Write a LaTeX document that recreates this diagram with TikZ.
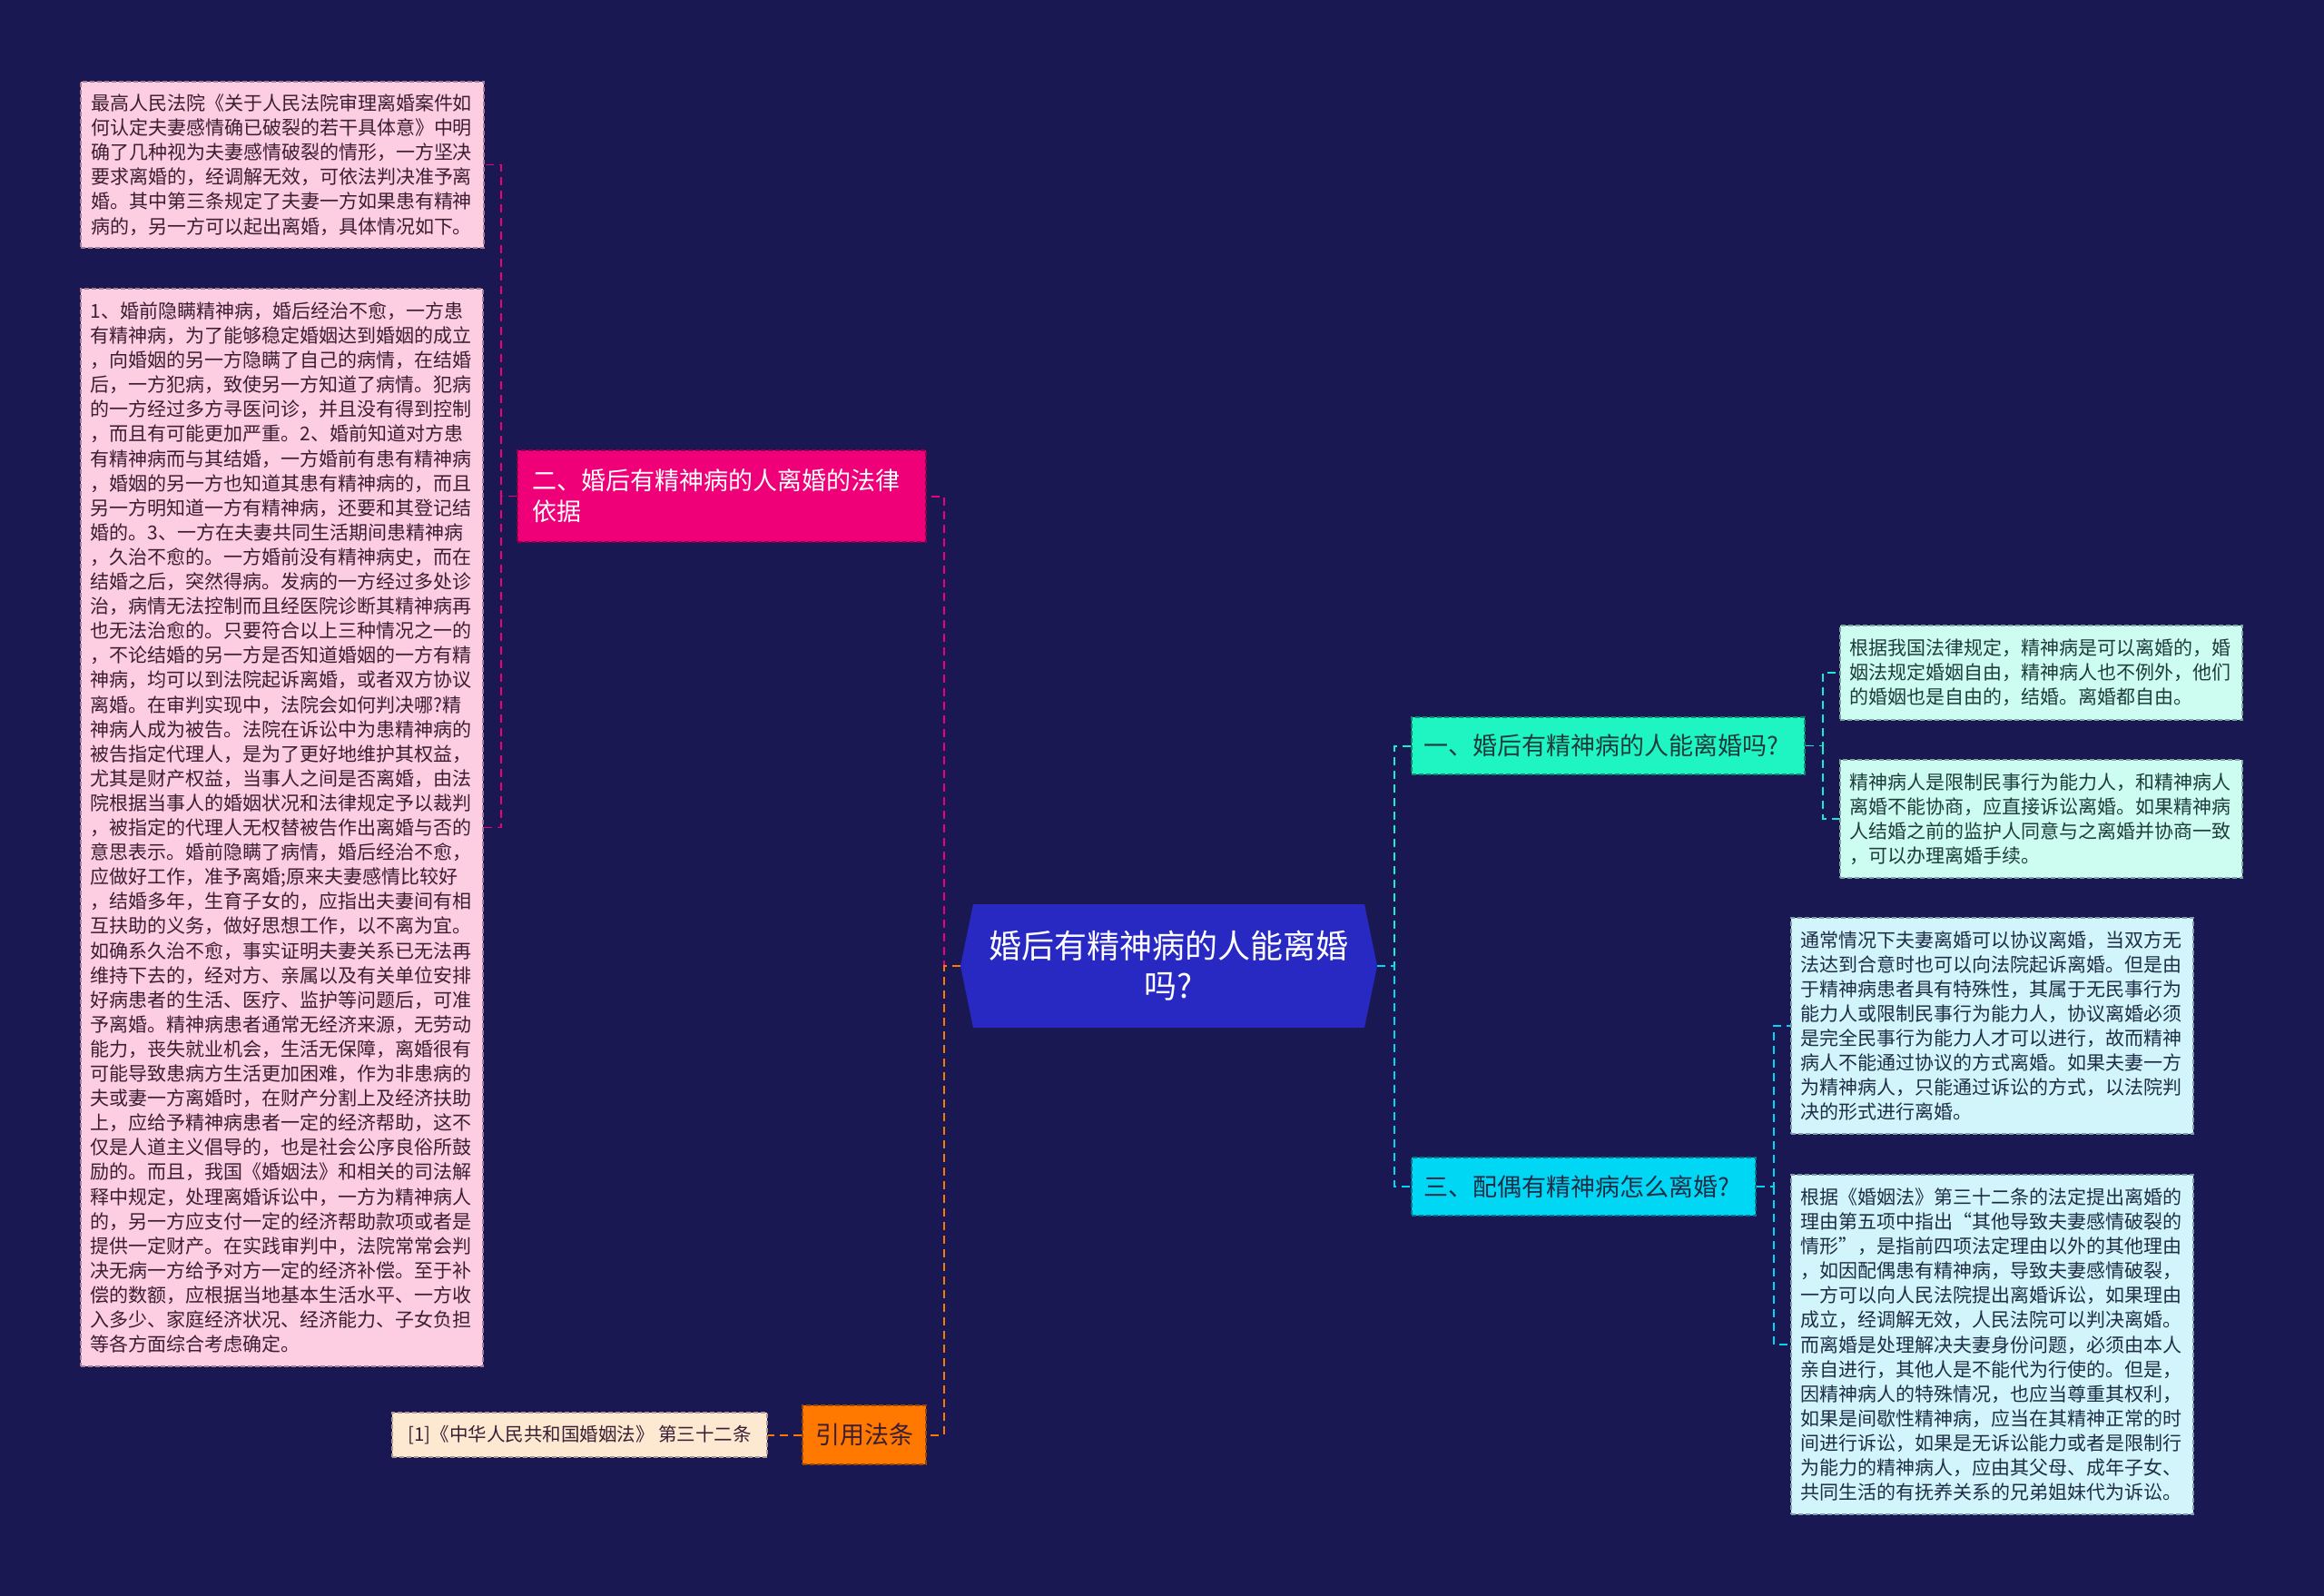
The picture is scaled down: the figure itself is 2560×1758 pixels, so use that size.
\documentclass[tikz,border=0pt]{standalone}
\usepackage{fontspec}
\setmainfont{Noto Sans CJK SC}
\definecolor{bgc}{RGB}{26,24,82}
\definecolor{rootc}{RGB}{40,40,195}
\definecolor{magc}{RGB}{240,0,120}
\definecolor{aquac}{RGB}{30,245,195}
\definecolor{cyanc}{RGB}{0,215,245}
\definecolor{orac}{RGB}{255,120,0}
\definecolor{pinkf}{RGB}{253,205,226}
\definecolor{mintf}{RGB}{205,253,240}
\definecolor{icef}{RGB}{210,245,252}
\definecolor{citef}{RGB}{253,233,210}
\definecolor{pinktx}{RGB}{60,30,50}
\definecolor{greentx}{RGB}{30,60,60}
\definecolor{bluetx}{RGB}{30,45,70}
\tikzset{
  box/.style={dashed, dash pattern=on 5pt off 3pt, line width=1.3pt, inner sep=0pt, align=left},
  bodytxt/.style={font=\fontsize{21}{27.1}\selectfont, text width=422pt},
  pinkbox/.style={box, bodytxt, fill=pinkf, draw=pinktx!45!pinkf, text=pinktx},
  mintbox/.style={box, bodytxt, fill=mintf, draw=greentx!45!mintf, text=greentx},
  icebox/.style={box, bodytxt, fill=icef, draw=bluetx!45!icef, text=bluetx},
  branch/.style={box, font=\fontsize{27}{34}\selectfont},
  conn/.style={line width=2pt, dash pattern=on 9pt off 6pt},
}
\begin{document}
\begin{tikzpicture}[x=1pt,y=-1pt]
\fill[bgc] (0,0) rectangle (2560,1758);
\useasboundingbox (0,0) rectangle (2560,1758);

% root
\fill[rootc] (1072,996) -- (1503,996) -- (1517,1064) -- (1503,1132) -- (1072,1132) -- (1058,1064) -- cycle;
\node[inner sep=0pt, minimum width=459pt, minimum height=136pt, align=center, text=white,
      font=\fontsize{36}{44}\selectfont] (root) at (1287.5,1064) {婚后有精神病的人能离婚\\吗?};

% left branch
\node[branch, fill=magc, draw=magc!60!black, text=white, text width=418pt,
      minimum width=450pt, minimum height=101pt] (n2) at (795,546.5)
      {二、婚后有精神病的人离婚的法律\\依据};
\node[pinkbox, minimum width=444pt, minimum height=183pt] (p1) at (311,181.5) {%
最高人民法院《关于人民法院审理离婚案件如\\
何认定夫妻感情确已破裂的若干具体意》中明\\
确了几种视为夫妻感情破裂的情形，一方坚决\\
要求离婚的，经调解无效，可依法判决准予离\\
婚。其中第三条规定了夫妻一方如果患有精神\\
病的，另一方可以起出离婚，具体情况如下。};
\node[pinkbox, minimum width=443pt, minimum height=1187pt] (p2) at (310.5,911.5) {%
1、婚前隐瞒精神病，婚后经治不愈，一方患\\
有精神病，为了能够稳定婚姻达到婚姻的成立\\
，向婚姻的另一方隐瞒了自己的病情，在结婚\\
后，一方犯病，致使另一方知道了病情。犯病\\
的一方经过多方寻医问诊，并且没有得到控制\\
，而且有可能更加严重。2、婚前知道对方患\\
有精神病而与其结婚，一方婚前有患有精神病\\
，婚姻的另一方也知道其患有精神病的，而且\\
另一方明知道一方有精神病，还要和其登记结\\
婚的。3、一方在夫妻共同生活期间患精神病\\
，久治不愈的。一方婚前没有精神病史，而在\\
结婚之后，突然得病。发病的一方经过多处诊\\
治，病情无法控制而且经医院诊断其精神病再\\
也无法治愈的。只要符合以上三种情况之一的\\
，不论结婚的另一方是否知道婚姻的一方有精\\
神病，均可以到法院起诉离婚，或者双方协议\\
离婚。在审判实现中，法院会如何判决哪?精\\
神病人成为被告。法院在诉讼中为患精神病的\\
被告指定代理人，是为了更好地维护其权益，\\
尤其是财产权益，当事人之间是否离婚，由法\\
院根据当事人的婚姻状况和法律规定予以裁判\\
，被指定的代理人无权替被告作出离婚与否的\\
意思表示。婚前隐瞒了病情，婚后经治不愈，\\
应做好工作，准予离婚;原来夫妻感情比较好\\
，结婚多年，生育子女的，应指出夫妻间有相\\
互扶助的义务，做好思想工作，以不离为宜。\\
如确系久治不愈，事实证明夫妻关系已无法再\\
维持下去的，经对方、亲属以及有关单位安排\\
好病患者的生活、医疗、监护等问题后，可准\\
予离婚。精神病患者通常无经济来源，无劳动\\
能力，丧失就业机会，生活无保障，离婚很有\\
可能导致患病方生活更加困难，作为非患病的\\
夫或妻一方离婚时，在财产分割上及经济扶助\\
上，应给予精神病患者一定的经济帮助，这不\\
仅是人道主义倡导的，也是社会公序良俗所鼓\\
励的。而且，我国《婚姻法》和相关的司法解\\
释中规定，处理离婚诉讼中，一方为精神病人\\
的，另一方应支付一定的经济帮助款项或者是\\
提供一定财产。在实践审判中，法院常常会判\\
决无病一方给予对方一定的经济补偿。至于补\\
偿的数额，应根据当地基本生活水平、一方收\\
入多少、家庭经济状况、经济能力、子女负担\\
等各方面综合考虑确定。};

\node[branch, fill=orac, draw=orac!60!black, text=pinktx, align=center,
      minimum width=136pt, minimum height=65pt] (n4) at (952,1580.5) {引用法条};
\node[box, fill=citef, draw=pinktx!40!citef, text=pinktx, align=center,
      font=\fontsize{20.5}{25}\selectfont,
      minimum width=413pt, minimum height=49pt] (cite) at (638.5,1580.5)
      {[1]《中华人民共和国婚姻法》 第三十二条};

% right branch
\node[branch, fill=aquac, draw=aquac!55!black, text=greentx, text width=407pt,
      minimum width=433pt, minimum height=63pt] (n1) at (1771.5,821.5)
      {一、婚后有精神病的人能离婚吗?};
\node[branch, fill=cyanc, draw=cyanc!55!black, text=bluetx, text width=353pt,
      minimum width=379pt, minimum height=64pt] (n3) at (1744.5,1307)
      {三、配偶有精神病怎么离婚?};

\node[mintbox, minimum width=443pt, minimum height=104pt] (r1) at (2248.5,741) {%
根据我国法律规定，精神病是可以离婚的，婚\\
姻法规定婚姻自由，精神病人也不例外，他们\\
的婚姻也是自由的，结婚。离婚都自由。};
\node[mintbox, minimum width=443pt, minimum height=130pt] (r2) at (2248.5,902) {%
精神病人是限制民事行为能力人，和精神病人\\
离婚不能协商，应直接诉讼离婚。如果精神病\\
人结婚之前的监护人同意与之离婚并协商一致\\
，可以办理离婚手续。};
\node[icebox, minimum width=443pt, minimum height=238pt] (r3) at (2194.5,1130) {%
通常情况下夫妻离婚可以协议离婚，当双方无\\
法达到合意时也可以向法院起诉离婚。但是由\\
于精神病患者具有特殊性，其属于无民事行为\\
能力人或限制民事行为能力人，协议离婚必须\\
是完全民事行为能力人才可以进行，故而精神\\
病人不能通过协议的方式离婚。如果夫妻一方\\
为精神病人，只能通过诉讼的方式，以法院判\\
决的形式进行离婚。};
\node[icebox, minimum width=443pt, minimum height=374pt] (r4) at (2194.5,1481) {%
根据《婚姻法》第三十二条的法定提出离婚的\\
理由第五项中指出“其他导致夫妻感情破裂的\\
情形”，是指前四项法定理由以外的其他理由\\
，如因配偶患有精神病，导致夫妻感情破裂，\\
一方可以向人民法院提出离婚诉讼，如果理由\\
成立，经调解无效，人民法院可以判决离婚。\\
而离婚是处理解决夫妻身份问题，必须由本人\\
亲自进行，其他人是不能代为行使的。但是，\\
因精神病人的特殊情况，也应当尊重其权利，\\
如果是间歇性精神病，应当在其精神正常的时\\
间进行诉讼，如果是无诉讼能力或者是限制行\\
为能力的精神病人，应由其父母、成年子女、\\
共同生活的有抚养关系的兄弟姐妹代为诉讼。};

% junctions
\coordinate (jl) at (1040,1064);
\coordinate (jr) at (1536,1064);
\coordinate (j2) at (552,546.5);
\coordinate (j1) at (2008,821.5);
\coordinate (j3) at (1954,1307);

% connectors
\draw[conn, magc] (root.west) -- (jl) |- (n2.east);
\draw[conn, orac] (root.west) -- (jl) |- (n4.east);
\draw[conn, magc, line width=1.5pt] (n2.west) -- (j2) |- (p1.east);
\draw[conn, magc, line width=1.5pt] (j2) |- (p2.east);
\draw[conn, orac] (n4.west) -- (cite.east);
\draw[conn, aquac!80!cyanc] (root.east) -- (jr) |- (n1.west);
\draw[conn, cyanc] (root.east) -- (jr) |- (n3.west);
\draw[conn, aquac!70!cyanc, line width=1.5pt] (n1.east) -- (j1) |- (r1.west);
\draw[conn, aquac!70!cyanc, line width=1.5pt] (j1) |- (r2.west);
\draw[conn, cyanc, line width=1.5pt] (n3.east) -- (j3) |- (r3.west);
\draw[conn, cyanc, line width=1.5pt] (j3) |- (r4.west);
\end{tikzpicture}
\end{document}
